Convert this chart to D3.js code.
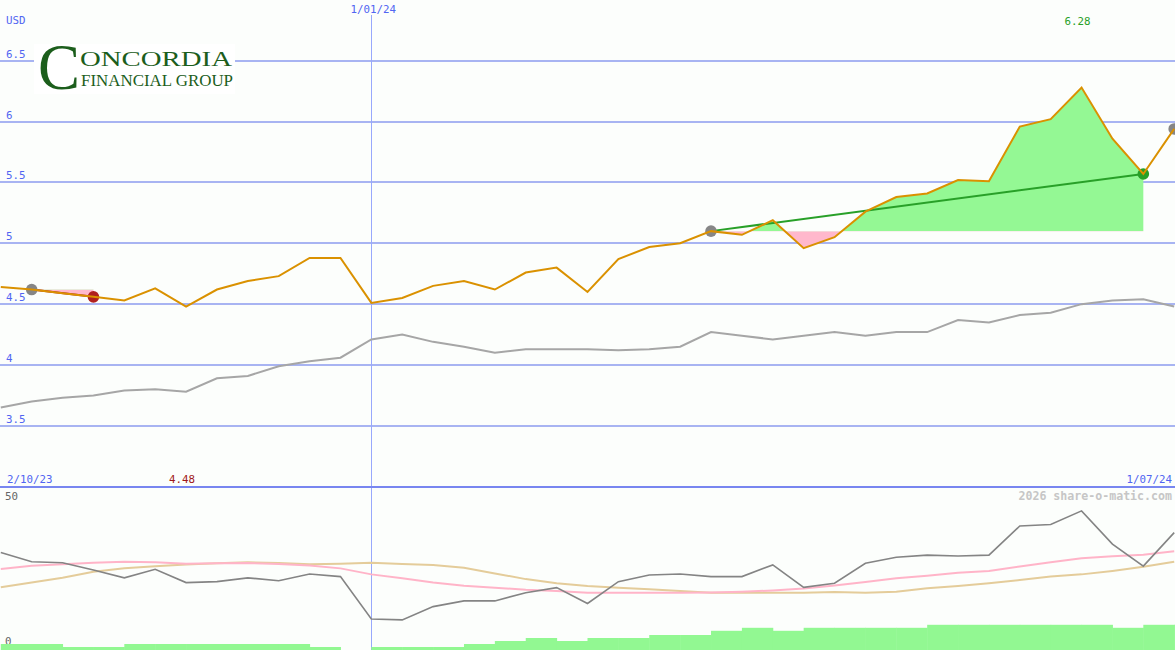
<!DOCTYPE html>
<html>
<head>
<meta charset="utf-8">
<script src="https://cdn.jsdelivr.net/npm/d3@7"></script>
<style>
  html, body { margin: 0; padding: 0; background: #fcfefc; }
  svg { display: block; }
</style>
</head>
<body>
<svg id="chart" width="1175" height="650"></svg>
<script>
// ---- data (weekly points, index 0..38) ----
const price = [4.64, 4.62, 4.59, 4.56, 4.53, 4.63, 4.48, 4.62, 4.69, 4.73,
               4.88, 4.88, 4.51, 4.55, 4.65, 4.69, 4.62, 4.76, 4.80, 4.60,
               4.87, 4.97, 5.00, 5.10, 5.07, 5.19, 4.96, 5.05, 5.26, 5.38,
               5.41, 5.52, 5.51, 5.96, 6.02, 6.28, 5.86, 5.57, 5.94];
const priceAvg = [3.65, 3.70, 3.73, 3.75, 3.79, 3.80, 3.78, 3.89, 3.91, 3.99,
                  4.03, 4.06, 4.21, 4.25, 4.19, 4.15, 4.10, 4.13, 4.13, 4.13,
                  4.12, 4.13, 4.15, 4.27, 4.24, 4.21, 4.24, 4.27, 4.24, 4.27,
                  4.27, 4.37, 4.35, 4.41, 4.43, 4.50, 4.53, 4.54, 4.48];
const osc = [30.2, 27.3, 27.0, 24.7, 22.2, 24.9, 20.7, 21.0, 22.2, 21.3,
             23.4, 22.6, 9.2, 8.9, 13.1, 14.9, 14.9, 17.5, 19.1, 14.1,
             21.0, 23.1, 23.4, 22.6, 22.6, 26.3, 19.2, 20.5, 26.8, 28.7,
             29.4, 29.1, 29.4, 38.6, 39.1, 43.4, 32.9, 25.9, 36.5];
const oscFast = [25.0, 26.0, 26.5, 27.0, 27.3, 27.1, 26.7, 26.8, 26.9, 26.6,
                 26.1, 25.2, 23.3, 22.1, 20.7, 19.7, 19.1, 18.4, 18.0, 17.5,
                 17.5, 17.5, 17.5, 17.6, 17.8, 18.2, 18.8, 19.8, 20.9, 22.1,
                 22.9, 23.8, 24.4, 25.8, 27.1, 28.4, 29.0, 29.5, 30.6];
const oscSlow = [19.2, 20.7, 22.2, 24.1, 25.2, 25.9, 26.4, 26.8, 27.1, 26.9,
                 26.5, 26.7, 27.0, 26.6, 26.3, 25.4, 23.6, 21.8, 20.5, 19.6,
                 19.1, 18.6, 18.0, 17.5, 17.5, 17.5, 17.5, 17.7, 17.5, 17.8,
                 18.9, 19.6, 20.5, 21.5, 22.6, 23.3, 24.4, 25.7, 27.3];
const volume = [2, 2, 1, 1, 2, 2, 2, 2, 2, 2,
                1, 0, 1, 1, 1, 2, 3, 4, 3, 4,
                4, 5, 5, 6.4, 7.4, 6.4, 7.4, 7.4, 7.4, 7.4,
                8.4, 8.4, 8.4, 8.4, 8.4, 8.4, 7.4, 8.4, 8.4];
const priceTicks = [3.5, 4, 4.5, 5, 5.5, 6, 6.5];
const priceTickLabels = ["3.5", "4", "4.5", "5", "5.5", "6", "6.5"];
const oscTicks = [0, 50];
const startLabel = "2/10/23";
const endLabel = "1/07/24";
const yearLabel = "1/01/24";
const yearIndex = 12;
const trends = [
  { from: 1, to: 3 },
  { from: 23, to: 37 }
];
const openTrendIndex = 38;
const minIndex = 6, maxIndex = 35;

// ---- layout ----
const W = 1175, H = 650;
const svg = d3.select("#chart");
const mono = "'DejaVu Sans Mono', 'Liberation Mono', monospace";
const blueText = "#5165f2";

const x = d3.scaleLinear().domain([0, price.length - 1]).range([0.8, 1174.2]);
const y = d3.scaleLinear().domain([3.5, 6.5]).range([425.8, 60.8]);
const yo = d3.scaleLinear().domain([0, 50]).range([648, 490]);
const vh = d3.scaleLinear().domain([0, 10]).range([0, 30]);

svg.append("rect").attr("width", W).attr("height", H).attr("fill", "#fcfefc");

// gridlines
svg.append("g").selectAll("line").data(priceTicks).join("line")
  .attr("x1", 0).attr("x2", W)
  .attr("y1", d => Math.round(y(d))).attr("y2", d => Math.round(y(d)))
  .attr("stroke", "#a8b4f2").attr("stroke-width", 2);

// tick labels
svg.append("g").selectAll("text").data(priceTicks).join("text")
  .attr("x", 6).attr("y", d => Math.round(y(d)) - 3)
  .attr("font-family", mono).attr("font-size", 10.8).attr("fill", blueText)
  .text((d, i) => priceTickLabels[i]);
svg.append("text").attr("x", 6).attr("y", 24)
  .attr("font-family", mono).attr("font-size", 10.8).attr("fill", blueText).text("USD");

// logo
const logo = svg.append("g");
logo.append("rect").attr("x", 34).attr("y", 44).attr("width", 201).attr("height", 50).attr("fill", "#ffffff");
const logoColor = "#1c5e1c";
const serif = "'Liberation Serif', 'DejaVu Serif', serif";
logo.append("text").attr("x", 38).attr("y", 88.5)
  .attr("font-family", serif).attr("font-size", 65).attr("fill", logoColor)
  .attr("textLength", 42).attr("lengthAdjust", "spacingAndGlyphs").text("C");
logo.append("text").attr("x", 80).attr("y", 66)
  .attr("font-family", serif).attr("font-size", 22).attr("fill", logoColor)
  .attr("textLength", 152).attr("lengthAdjust", "spacingAndGlyphs").text("ONCORDIA");
logo.append("text").attr("x", 81).attr("y", 86)
  .attr("font-family", serif).attr("font-size", 17).attr("fill", logoColor)
  .attr("textLength", 152).attr("lengthAdjust", "spacingAndGlyphs").text("FINANCIAL GROUP");

// year line
svg.append("line")
  .attr("x1", Math.round(x(yearIndex)) + 0.5).attr("x2", Math.round(x(yearIndex)) + 0.5)
  .attr("y1", 15).attr("y2", H)
  .attr("stroke", "#98a8fc").attr("stroke-width", 1);
svg.append("text").attr("x", x(yearIndex) + 2).attr("y", 13)
  .attr("text-anchor", "middle")
  .attr("font-family", mono).attr("font-size", 10.8).attr("fill", blueText).text(yearLabel);

// trend fills
const defs = svg.append("defs");
trends.forEach((t, k) => {
  const base = y(price[t.from]);
  const seg = d3.range(t.from, t.to + 1);
  const area = d3.area().x(i => x(i)).y0(base).y1(i => y(price[i]));
  defs.append("clipPath").attr("id", "above" + k)
    .append("rect").attr("x", 0).attr("y", 0).attr("width", W).attr("height", base);
  defs.append("clipPath").attr("id", "below" + k)
    .append("rect").attr("x", 0).attr("y", base).attr("width", W).attr("height", 480 - base);
  svg.append("path").datum(seg).attr("d", area).attr("fill", "#94f894")
    .attr("clip-path", `url(#above${k})`);
  svg.append("path").datum(seg).attr("d", area).attr("fill", "#ffb8cc")
    .attr("clip-path", `url(#below${k})`);
});

// average line
svg.append("path").datum(priceAvg)
  .attr("d", d3.line().x((d, i) => x(i)).y(d => y(d)))
  .attr("fill", "none").attr("stroke", "#a6a6a6").attr("stroke-width", 2);

// trend lines
trends.forEach(t => {
  const up = price[t.to] >= price[t.from];
  svg.append("line")
    .attr("x1", x(t.from)).attr("y1", y(price[t.from]))
    .attr("x2", x(t.to)).attr("y2", y(price[t.to]))
    .attr("stroke", up ? "#28a028" : "#b02020").attr("stroke-width", 2);
});

// dots
const dots = [];
trends.forEach(t => {
  const up = price[t.to] >= price[t.from];
  dots.push({ i: t.from, c: "#868686" });
  dots.push({ i: t.to, c: up ? "#28a028" : "#b02020" });
});
dots.push({ i: openTrendIndex, c: "#868686" });
svg.append("g").selectAll("circle").data(dots).join("circle")
  .attr("cx", d => x(d.i)).attr("cy", d => y(price[d.i])).attr("r", 5.8)
  .attr("fill", d => d.c);

// price line
svg.append("path").datum(price)
  .attr("d", d3.line().x((d, i) => x(i)).y(d => y(d)))
  .attr("fill", "none").attr("stroke", "#da9100").attr("stroke-width", 2);

// min / max labels
svg.append("text").attr("x", x(maxIndex) - 4).attr("y", 25).attr("text-anchor", "middle")
  .attr("font-family", mono).attr("font-size", 10.8).attr("fill", "#28a028")
  .text(d3.max(price).toFixed(2));
svg.append("text").attr("x", x(minIndex) - 4).attr("y", 483).attr("text-anchor", "middle")
  .attr("font-family", mono).attr("font-size", 10.8).attr("fill", "#a01818")
  .text(d3.min(price).toFixed(2));

// date labels
svg.append("text").attr("x", 7).attr("y", 483)
  .attr("font-family", mono).attr("font-size", 10.8).attr("fill", blueText).text(startLabel);
svg.append("text").attr("x", 1172).attr("y", 483).attr("text-anchor", "end")
  .attr("font-family", mono).attr("font-size", 10.8).attr("fill", blueText).text(endLabel);

// separator
svg.append("line").attr("x1", 0).attr("x2", W).attr("y1", 487).attr("y2", 487)
  .attr("stroke", "#7886f0").attr("stroke-width", 2);

// lower panel
svg.append("text").attr("x", 1172).attr("y", 500).attr("text-anchor", "end")
  .attr("font-family", mono).attr("font-size", 11.6).attr("font-weight", "bold")
  .attr("fill", "#c6c6c6").text("2026 share-o-matic.com");
svg.append("g").selectAll("text").data(oscTicks).join("text")
  .attr("x", 5).attr("y", d => d === 0 ? 645 : 500)
  .attr("font-family", mono).attr("font-size", 10.8).attr("fill", "#666666")
  .text(d => d);

// volume bars
svg.append("g").selectAll("rect").data(volume).join("rect")
  .attr("x", (d, i) => x(i)).attr("width", (d, i) => x(i + 1) - x(i) + 0.5)
  .attr("y", d => H - vh(d)).attr("height", d => vh(d))
  .attr("fill", "#92f892");

const oline = d3.line().x((d, i) => x(i)).y(d => yo(d));
svg.append("path").datum(oscSlow).attr("d", oline)
  .attr("fill", "none").attr("stroke", "#e4cc9a").attr("stroke-width", 2);
svg.append("path").datum(oscFast).attr("d", oline)
  .attr("fill", "none").attr("stroke", "#ffb4c8").attr("stroke-width", 2);
svg.append("path").datum(osc).attr("d", oline)
  .attr("fill", "none").attr("stroke", "#848484").attr("stroke-width", 1.6);
</script>
</body>
</html>
